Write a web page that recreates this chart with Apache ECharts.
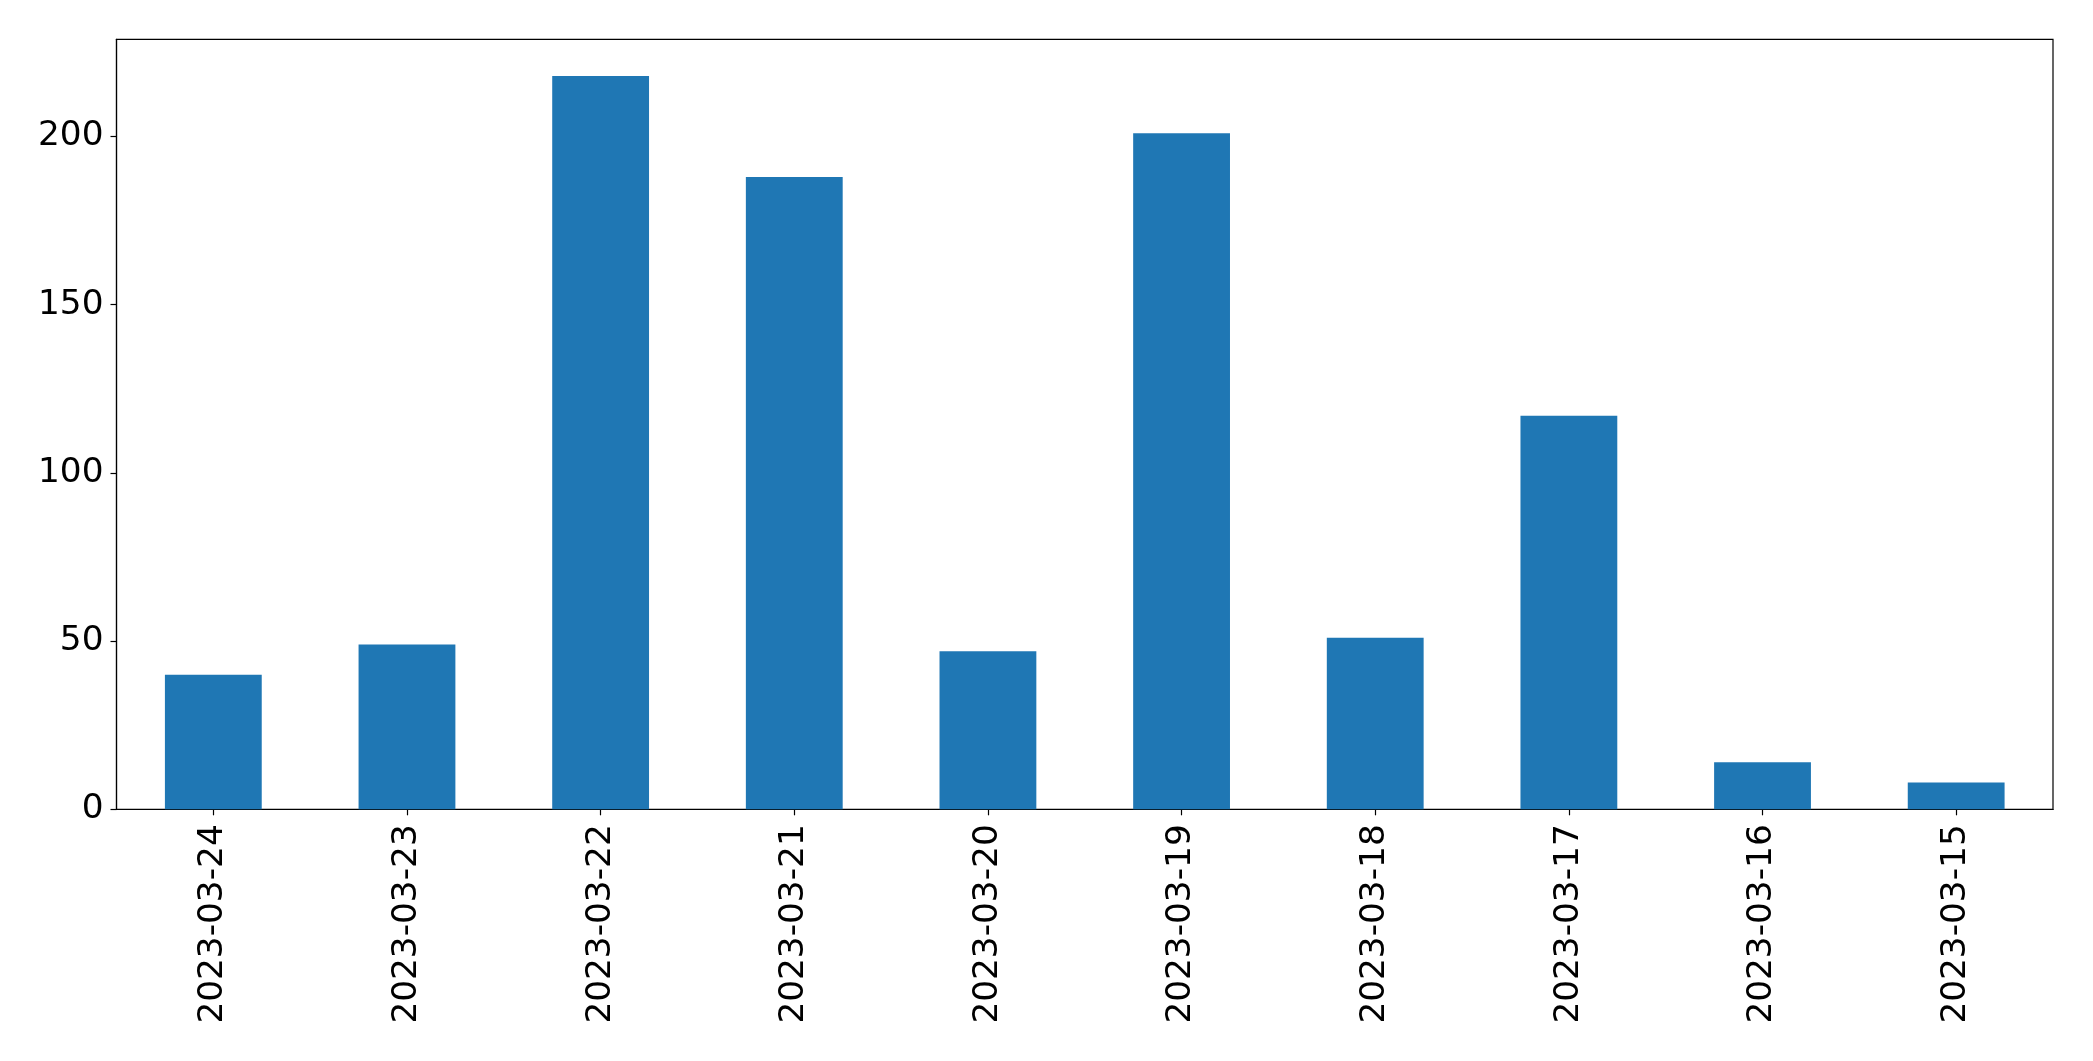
<!DOCTYPE html>
<html>
<head>
<meta charset="utf-8">
<script src="https://cdn.jsdelivr.net/npm/echarts@6/dist/echarts.min.js"></script>
<style>
html,body{margin:0;padding:0;background:#fff;}
#chart{width:2093px;height:1061px;}
</style>
</head>
<body>
<div id="chart"></div>
<script>
const categories = ['2023-03-24','2023-03-23','2023-03-22','2023-03-21','2023-03-20','2023-03-19','2023-03-18','2023-03-17','2023-03-16','2023-03-15'];
const values = [40, 49, 218, 188, 47, 201, 51, 117, 14, 8];
const yTicks = [0, 50, 100, 150, 200];

const chart = echarts.init(document.getElementById('chart'), null, {renderer: 'canvas'});
const font = 'DejaVu Sans';
chart.setOption({
  backgroundColor: '#ffffff',
  animation: false,
  grid: {
    left: 116.5, right: 40, top: 39.3, bottom: 251.7,
    show: true, borderColor: '#000', borderWidth: 1.2, backgroundColor: 'transparent'
  },
  xAxis: {
    type: 'category',
    data: categories,
    axisLine: {show: true, lineStyle: {color: '#000', width: 1.2}},
    axisTick: {show: true, alignWithLabel: true, length: 6, lineStyle: {color: '#000', width: 1.2}},
    axisLabel: {rotate: 90, margin: 15, color: '#000', fontSize: 34.3, fontFamily: font, interval: 0},
    splitLine: {show: false}
  },
  yAxis: {
    type: 'value',
    min: 0,
    max: 228.9,
    interval: 50,
    axisLine: {show: true, lineStyle: {color: '#000', width: 1.2}},
    axisTick: {show: true, length: 6, customValues: yTicks, lineStyle: {color: '#000', width: 1.2}},
    axisLabel: {margin: 13, color: '#000', fontSize: 34.3, fontFamily: font, customValues: yTicks},
    splitLine: {show: false}
  },
  series: [{
    type: 'bar',
    data: values,
    barWidth: '50%',
    itemStyle: {color: '#1f77b4'}
  }]
});
</script>
</body>
</html>
